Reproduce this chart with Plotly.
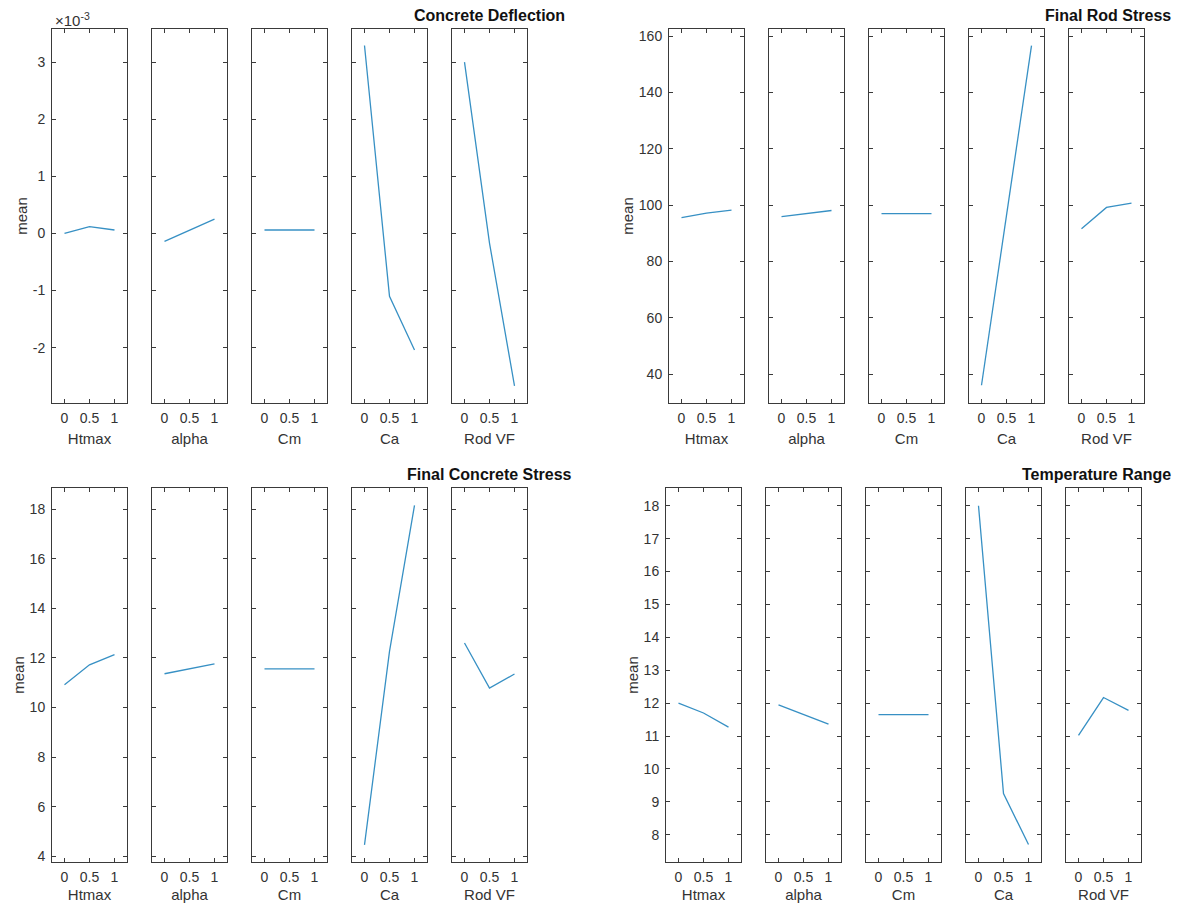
import plotly.graph_objects as go

# ---------------- data ----------------
levels = [0, 0.5, 1]
level_labels = ["0", "0.5", "1"]
factors = ["Htmax", "alpha", "Cm", "Ca", "Rod VF"]

# Concrete Deflection (units of 1e-3), one row per factor
deflection_e3 = [
    [0.00, 0.12, 0.06],
    [-0.14, 0.055, 0.25],
    [0.06, 0.06, 0.06],
    [3.29, -1.10, -2.04],
    [3.00, -0.17, -2.67],
]
# Final Rod Stress
rod_stress = [
    [95.6, 97.2, 98.2],
    [95.9, 97.0, 98.1],
    [97.0, 97.0, 97.0],
    [36.1, 96.4, 156.6],
    [91.6, 99.2, 100.7],
]
# Final Concrete Stress
concrete_stress = [
    [10.92, 11.72, 12.13],
    [11.36, 11.56, 11.76],
    [11.56, 11.56, 11.56],
    [4.46, 12.26, 18.15],
    [12.60, 10.78, 11.35],
]
# Temperature Range
temp_range = [
    [12.00, 11.70, 11.27],
    [11.95, 11.65, 11.36],
    [11.65, 11.65, 11.65],
    [18.00, 9.25, 7.70],
    [11.02, 12.17, 11.78],
]

titles = ["Concrete Deflection", "Final Rod Stress", "Final Concrete Stress", "Temperature Range"]
series = [deflection_e3, rod_stress, concrete_stress, temp_range]

defl_ticks = [-2, -1, 0, 1, 2, 3]
rod_ticks = [40, 60, 80, 100, 120, 140, 160]
conc_ticks = [4, 6, 8, 10, 12, 14, 16, 18]
temp_ticks = [8, 9, 10, 11, 12, 13, 14, 15, 16, 17, 18]
tick_sets = [defl_ticks, rod_ticks, conc_ticks, temp_ticks]
y_ranges = [[-2.97, 3.58], [29.8, 162.5], [3.77, 18.85], [7.17, 18.54]]

# ---------------- layout geometry (pixels) ----------------
OFF = 8  # page body margin
W, H = 1181 - 2 * OFF, 911 - 2 * OFF
group_left = [52, 669, 52, 666]
group_top = [29, 29, 488, 488]
panel_w, panel_step, panel_h = 75, 100, 374

LINE_COLOR = "#3790c4"
AX_COLOR = "#3a3a3a"
FONT = "Liberation Sans, Arial, Helvetica, sans-serif"

fig = go.Figure()
layout_axes = {}
annotations = []

for g in range(4):
    for p in range(5):
        k = g * 5 + p + 1
        xs = "" if k == 1 else str(k)
        x0 = group_left[g] + p * panel_step - OFF
        x1 = x0 + panel_w
        y0 = group_top[g] - OFF
        y1 = y0 + panel_h
        fig.add_trace(go.Scatter(
            x=levels, y=series[g][p], mode="lines",
            line=dict(color=LINE_COLOR, width=1.3),
            xaxis="x" + xs, yaxis="y" + xs, showlegend=False,
        ))
        layout_axes["xaxis" + xs] = dict(
            domain=[x0 / W, x1 / W], anchor="y" + xs,
            range=[-0.25, 1.25], tickvals=levels, ticktext=level_labels,
            ticks="inside", ticklen=4, tickcolor=AX_COLOR, tickwidth=1,
            showline=True, linecolor=AX_COLOR, linewidth=1, mirror="ticks",
            showgrid=False, zeroline=False, fixedrange=True,
            tickfont=dict(family=FONT, size=14, color="#333333"),
            ticklabelstandoff=2,
            title=dict(text=factors[p], standoff=8,
                       font=dict(family=FONT, size=15, color="#333333")),
            automargin=False,
        )
        layout_axes["yaxis" + xs] = dict(
            domain=[1 - y1 / H, 1 - y0 / H], anchor="x" + xs,
            range=y_ranges[g], tickvals=tick_sets[g],
            ticktext=[str(t) for t in tick_sets[g]],
            ticks="inside", ticklen=4, tickcolor=AX_COLOR, tickwidth=1,
            showline=True, linecolor=AX_COLOR, linewidth=1, mirror="ticks",
            showgrid=False, zeroline=False, fixedrange=True,
            showticklabels=(p == 0),
            tickfont=dict(family=FONT, size=14, color="#333333"),
            ticklabelstandoff=3,
            automargin=False,
        )
        if p == 0:
            layout_axes["yaxis" + xs]["title"] = dict(
                text="mean", standoff=1,
                font=dict(family=FONT, size=15, color="#333333"))
        if p == 4:
            cx = (x0 + x1) / 2
            if cx + 76 > W:
                ann_x, anchor = 1.0, "right"
            else:
                ann_x, anchor = cx / W, "center"
            annotations.append(dict(
                text="<b>" + titles[g] + "</b>", xref="paper", yref="paper",
                x=ann_x, y=1 - (y0 - 14) / H,
                xanchor=anchor, yanchor="middle", showarrow=False,
                font=dict(family=FONT, size=16, color="#111111"),
            ))

annotations.append(dict(
    text="×10<sup>-3</sup>", xref="paper", yref="paper",
    x=(53 - OFF) / W, y=1 - (19 - OFF) / H, xanchor="left", yanchor="middle",
    showarrow=False, font=dict(family=FONT, size=15, color="#333333"),
))

fig.update_layout(
    width=W, height=H,
    margin=dict(l=0, r=0, t=0, b=0),
    paper_bgcolor="white", plot_bgcolor="white",
    annotations=annotations,
    **layout_axes,
)

fig.write_html("out.html")
